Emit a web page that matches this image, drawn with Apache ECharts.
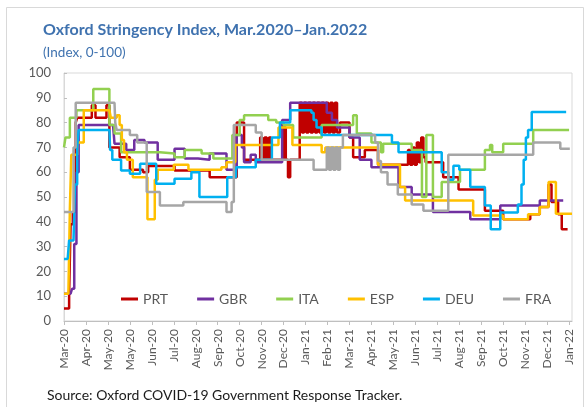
<!DOCTYPE html>
<html><head><meta charset="utf-8">
<script src="https://cdn.jsdelivr.net/npm/echarts@6/dist/echarts.min.js"></script>
<style>html,body{margin:0;padding:0;background:#fff}#c{width:587px;height:407px}</style>
</head><body><div id="c"></div>
<script>
// x = days since 2020-03-02; ticks every 30 days
const tickLabels = ['Mar-20','Apr-20','May-20','May-20','Jun-20','Jul-20','Aug-20','Sep-20','Oct-20','Nov-20','Dec-20','Jan-21','Feb-21','Mar-21','Apr-21','May-21','Jun-21','Jul-21','Aug-21','Sep-21','Oct-21','Nov-21','Dec-21','Jan-22'];
const seriesNames = ['PRT','GBR','ITA','ESP','DEU','FRA'];

// [day, index value] at each change point (stepped)
const PRT = [[0,5],[7,11],[9,39],[12,44],[16,80],[18,82],[38,87],[43,82],[58,87],[62,70],[76,66],[90,61],[108,60],[115,62.5],[151,60.7],[199,58],[236,80],[246,65],[268,74],[271,65],[274,74],[277,65],[280,74],[283,65],[300,78],[303,65],[306,58],[309,65],[322,88],[325,76],[328,88],[331,76],[334,88],[337,76],[340,88],[343,76],[346,88],[349,76],[352,88],[355,76],[358,88],[361,76],[364,88],[367,76],[370,88],[373,76],[377,80],[390,74],[395,66],[411,69],[429,63],[470,69],[473,63],[476,70],[479,63],[482,72],[485,64],[488,74],[491,66],[494,64],[518,58],[539,53],[575,44.5],[600,41],[637,43],[650,46],[662,55],[666,48],[675,43],[680,37],[688,37]];
const GBR = [[0,11],[9,11],[11,13],[14,31],[17,60],[20,79],[67,79],[69,71.5],[85,69],[96,73],[110,72],[128,65],[151,69.5],[165,65.5],[183,65],[199,67.5],[222,61],[236,75],[243,70],[246,64],[255,67],[262,64],[298,81],[309,88],[359,84],[366,81],[373,78],[390,74],[404,65],[420,62],[457,54],[475,51],[504,44],[555,41],[596,46.6],[650,48.6],[682,48.6]];
const ITA = [[0,70],[2,74],[8,82],[17,85],[40,93.5],[62,79],[69,75.6],[78,68],[131,67.5],[151,66],[165,69],[188,67.5],[204,65.5],[230,75],[240,81],[246,83],[279,81],[290,80],[300,79],[313,74],[352,79],[395,83],[400,75.6],[420,72],[433,68],[436,71.5],[475,69],[489,50],[495,75],[504,50],[516,56],[541,61],[575,69],[582,71],[585,68],[600,71.5],[641,77],[690,77]];
const ESP = [[0,11],[6,11],[8,45],[10,67],[18,72],[27,85],[62,85],[64,82],[72,83],[76,79],[79,73],[82,68],[86,65],[94,58],[114,41],[124,57],[128,61],[150,63],[170,61],[215,62],[222,64],[234,71],[293,78],[312,71],[352,68],[357,70],[429,63],[459,54],[466,48.6],[559,42.5],[600,41],[634,43],[650,46],[662,56],[672,43.2],[694,43.2]];
const DEU = [[0,25],[5,25],[7,32.5],[13,33],[15,55],[18,70],[20,77],[62,77],[63,69],[66,65],[78,60.7],[90,59.4],[104,63.4],[126,55.3],[151,57.4],[174,60],[185,50],[223,58],[235,62],[262,65],[284,74],[295,80],[309,85],[338,84],[341,81],[345,78],[352,75],[448,72],[457,68],[516,60],[525,57],[532,62.6],[540,61],[555,54],[575,46.6],[583,37],[596,43.8],[620,47],[625,55],[628,65],[631,74],[634,77],[639,84.3],[686,84.3]];
const FRA = [[0,44],[10,44],[13,70],[16,88],[69,88],[70,80],[72,77],[90,75],[100,72],[113,52],[131,46.6],[163,48],[222,44],[229,48],[232,79],[262,76],[270,65],[341,61],[359,70],[362,61],[365,70],[368,61],[371,70],[374,61],[377,70],[381,75],[425,72],[429,64.5],[433,60],[442,55],[456,51],[475,47],[491,44.5],[525,67],[641,72],[678,69.5],[691,69.5]];

const seriesData = [PRT, GBR, ITA, ESP, DEU, FRA];
const colors = ['#C00000','#7030A0','#92D050','#FFC000','#00B0F0','#A6A6A6'];
const FONT = 'Lato';

const chart = echarts.init(document.getElementById('c'));
chart.setOption({
  animation: false,
  backgroundColor: '#fff',
  title: [
    {text: 'Oxford Stringency Index, Mar.2020\u2013Jan.2022', left: 43, top: 22, padding: 0,
     textStyle: {fontFamily: FONT, fontSize: 16, fontWeight: 'bold', color: '#3F72AF'}},
    {text: '(Index, 0-100)', left: 43, top: 46, padding: 0,
     textStyle: {fontFamily: FONT, fontSize: 13.5, fontWeight: 'normal', color: '#3F72AF'}},
    {text: 'Source: Oxford COVID-19 Government Response Tracker.', left: 47, top: 388, padding: 0,
     textStyle: {fontFamily: FONT, fontSize: 14, fontWeight: 'normal', color: '#1a1a1a'}}
  ],
  graphic: [{type: 'rect', shape: {x: 6.5, y: 7.5, width: 577, height: 430},
             style: {fill: 'none', stroke: '#D9D9D9', lineWidth: 1}, silent: true}],
  legend: {
    data: seriesNames, left: 121, top: 292, padding: 0, itemGap: 29, itemWidth: 17, itemHeight: 3,
    icon: 'rect', textStyle: {fontFamily: FONT, fontSize: 14, color: '#595959'}
  },
  grid: {left: 64, right: 15, top: 73, bottom: 86, show: true, borderColor: '#D9D9D9', borderWidth: 1},
  xAxis: {
    type: 'value', min: 0, max: 694, interval: 30,
    axisLine: {show: true, lineStyle: {color: '#BFBFBF'}},
    axisTick: {show: true, length: 4, lineStyle: {color: '#BFBFBF'},
               customValues: tickLabels.map((_, i) => i * 30)},
    splitLine: {show: false},
    axisLabel: {
      rotate: 90, margin: 8, fontFamily: FONT, fontSize: 12, color: '#595959',
      customValues: tickLabels.map((_, i) => i * 30),
      formatter: function (v) {
        const i = Math.round(v / 30);
        return (Math.abs(v - i * 30) < 0.01 && i < tickLabels.length) ? tickLabels[i] : '';
      }
    }
  },
  yAxis: {
    type: 'value', min: 0, max: 100, interval: 10,
    axisLine: {show: true, lineStyle: {color: '#D9D9D9'}},
    axisTick: {show: true, inside: true, length: 3, lineStyle: {color: '#BFBFBF'}},
    splitLine: {show: false},
    axisLabel: {margin: 13, fontFamily: FONT, fontSize: 13, color: '#595959'}
  },
  series: seriesNames.map((n, k) => ({
    name: n, type: 'line', step: 'end', data: seriesData[k],
    showSymbol: false, symbol: 'none', color: colors[k],
    lineStyle: {width: 2.5, color: colors[k]}
  }))
});
</script></body></html>
